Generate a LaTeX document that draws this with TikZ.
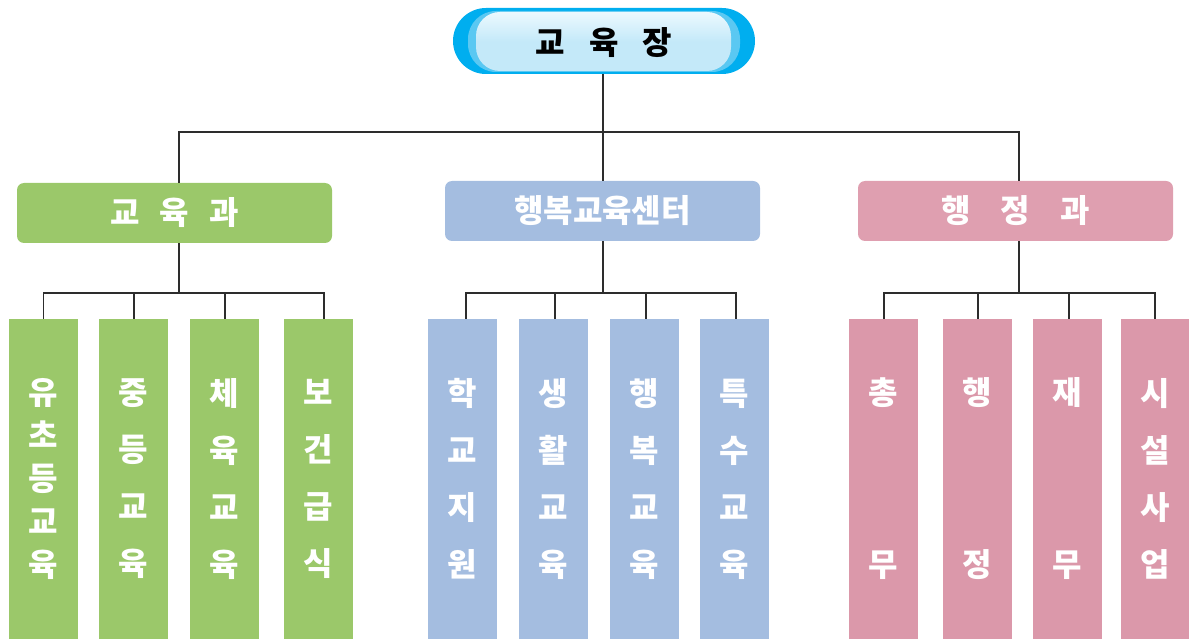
\documentclass[tikz,border=0pt]{standalone}
\usepackage{fontspec}
\newfontfamily\kr{Noto Sans CJK KR}
\definecolor{grn}{RGB}{155,200,106}
\definecolor{blu}{RGB}{164,189,224}
\definecolor{pnk}{RGB}{223,159,176}
\definecolor{pnkleaf}{RGB}{219,152,170}
\definecolor{rim}{RGB}{0,174,239}
\definecolor{rimlight}{RGB}{90,200,242}
\definecolor{panel}{RGB}{196,233,249}
\definecolor{panelhi}{RGB}{236,249,254}
\definecolor{conncol}{RGB}{45,45,45}
\tikzset{
  conn/.style={draw=conncol, line width=1.3pt},
  deptbox/.style={rounded corners=7pt, minimum width=315pt, minimum height=60pt, inner sep=0pt,
    text=white, font=\kr\bfseries\fontsize{32}{38}\selectfont},
  leafbox/.style={minimum width=69pt, minimum height=320pt, inner sep=0pt},
  leaftxt/.style={text=white, align=center, inner sep=0pt, font=\kr\bfseries\fontsize{32}{#1}\selectfont},
}
\begin{document}
\begin{tikzpicture}[x=1pt,y=-1pt]
\useasboundingbox (0,0) rectangle (1189,639);
% top pill decoration
\fill[rim, rounded corners=33pt] (453,8) rectangle (755,74);
\fill[rimlight, rounded corners=28pt] (468,11) rectangle (740,72);
\shade[rounded corners=24pt, top color=panelhi, bottom color=panel, middle color=panel] (476,12) rectangle (731,71);
\node[inner sep=0pt, minimum width=302pt, minimum height=66pt, text=black,
      font=\kr\bfseries\fontsize{32}{38}\selectfont] (top) at (604,43) {교\hspace{24pt}육\hspace{24pt}장};

% departments
\node[deptbox, fill=grn] (gA) at (174.5,213) {교\hspace{20pt}육\hspace{20pt}과};
\node[deptbox, fill=blu] (bA) at (602.5,211) {행복교육센터};
\node[deptbox, fill=pnk] (pA) at (1015.5,211) {행\hspace{30pt}정\hspace{30pt}과};

% leaves green
\node[leafbox, fill=grn] (g1) at (43.5,479) {};
\node[leafbox, fill=grn] (g2) at (133.5,479) {};
\node[leafbox, fill=grn] (g3) at (224.5,479) {};
\node[leafbox, fill=grn] (g4) at (318.5,479) {};
% leaves blue
\node[leafbox, fill=blu] (b1) at (462.5,479) {};
\node[leafbox, fill=blu] (b2) at (553.5,479) {};
\node[leafbox, fill=blu] (b3) at (644.5,479) {};
\node[leafbox, fill=blu] (b4) at (734.5,479) {};
% leaves pink
\node[leafbox, fill=pnkleaf] (p1) at (883.5,479) {};
\node[leafbox, fill=pnkleaf] (p2) at (977.5,479) {};
\node[leafbox, fill=pnkleaf] (p3) at (1067.5,479) {};
\node[leafbox, fill=pnkleaf, minimum width=68pt] (p4) at (1155,479) {};

% leaf texts
\node[leaftxt=43] (g1t) at (g1) {유\\초\\등\\교\\육};
\node[leaftxt=57] (g2t) at (g2) {중\\등\\교\\육};
\node[leaftxt=57] (g3t) at (g3) {체\\육\\교\\육};
\node[leaftxt=57] (g4t) at (g4) {보\\건\\급\\식};
\node[leaftxt=57] (b1t) at (b1) {학\\교\\지\\원};
\node[leaftxt=57] (b2t) at (b2) {생\\활\\교\\육};
\node[leaftxt=57] (b3t) at (b3) {행\\복\\교\\육};
\node[leaftxt=57] (b4t) at (b4) {특\\수\\교\\육};
\node[leaftxt=172] (p1t) at (p1) {총\\무};
\node[leaftxt=172] (p2t) at (p2) {행\\정};
\node[leaftxt=172] (p3t) at (p3) {재\\무};
\node[leaftxt=57] (p4t) at (p4) {시\\설\\사\\업};

% connectors top level
\coordinate (tbus) at (603,132);
\draw[conn] (603,74) -- (tbus);
\draw[conn] ([xshift=4.5pt]gA.north) |- (tbus);
\draw[conn] ([xshift=3.5pt]pA.north) |- (tbus);
\draw[conn] ([xshift=0.5pt]bA.north) -- (tbus);

% green bus
\coordinate (gbus) at (179,293);
\draw[conn] ([xshift=4.5pt]gA.south) -- (gbus);
\draw[conn] (g1.north) |- (gbus);
\draw[conn] ([xshift=0.5pt]g2.north) |- (gbus);
\draw[conn] ([xshift=0.5pt]g3.north) |- (gbus);
\draw[conn] ([xshift=5.5pt]g4.north) |- (gbus);

% blue bus
\coordinate (bbus) at (603,293);
\draw[conn] ([xshift=0.5pt]bA.south) -- (bbus);
\draw[conn] ([xshift=3.5pt]b1.north) |- (bbus);
\draw[conn] ([xshift=1.5pt]b2.north) |- (bbus);
\draw[conn] ([xshift=1.5pt]b3.north) |- (bbus);
\draw[conn] ([xshift=1.5pt]b4.north) |- (bbus);

% pink bus
\coordinate (pbus) at (1019,293);
\draw[conn] ([xshift=3.5pt]pA.south) -- (pbus);
\draw[conn] ([xshift=0.5pt]p1.north) |- (pbus);
\draw[conn] ([xshift=0.5pt]p2.north) |- (pbus);
\draw[conn] ([xshift=1.5pt]p3.north) |- (pbus);
\draw[conn] (p4.north) |- (pbus);
\end{tikzpicture}
\end{document}
